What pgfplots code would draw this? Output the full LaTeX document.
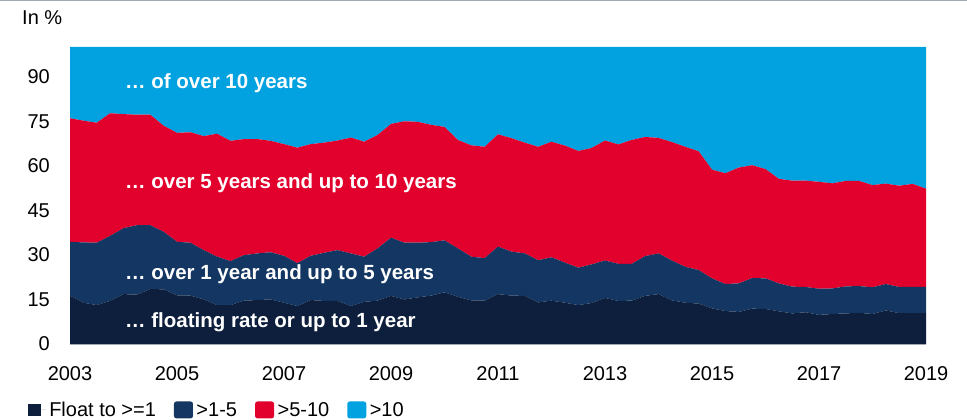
\documentclass[border=0pt]{standalone}
\usepackage{pgfplots}
\usepackage{pgfplotstable}
\pgfplotsset{compat=1.18}
\usepackage{fontspec}
\setmainfont{Liberation Sans}

\definecolor{floatc}{HTML}{0D1F3C}
\definecolor{midc}{HTML}{133662}
\definecolor{longc}{HTML}{E2002C}
\definecolor{vlongc}{HTML}{02A1DF}
\definecolor{rulec}{HTML}{A3ACB6}

% Shares of new loans by initial rate fixation, quarterly, in %
\pgfplotstableread{
year    float mid  long vlong
2003.00 16.3 18.1 41.6 24.0
2003.25 13.9 20.3 41.0 24.8
2003.50 13.1 21.0 40.4 25.5
2003.75 14.5 21.9 41.3 22.3
2004.00 16.8 22.2 38.4 22.6
2004.25 16.6 23.4 37.2 22.8
2004.50 18.5 21.5 37.2 22.8
2004.75 18.4 19.4 35.7 26.5
2005.00 16.4 18.0 36.7 28.9
2005.25 16.3 17.8 37.2 28.7
2005.50 15.0 16.6 38.4 30.0
2005.75 13.1 16.3 41.4 29.2
2006.00 13.1 14.8 40.5 31.6
2006.25 14.6 15.3 39.1 31.0
2006.50 14.8 15.7 38.5 31.0
2006.75 15.0 15.9 37.5 31.6
2007.00 13.9 15.8 37.6 32.7
2007.25 12.8 14.4 38.9 33.9
2007.50 14.8 14.9 37.6 32.7
2007.75 14.5 16.2 37.1 32.2
2008.00 14.5 17.1 36.9 31.5
2008.25 12.8 17.7 39.0 30.5
2008.50 14.2 15.2 38.7 31.9
2008.75 14.6 17.6 38.2 29.6
2009.00 16.2 19.6 38.3 25.9
2009.25 15.0 19.1 40.9 25.0
2009.50 15.7 18.4 40.7 25.2
2009.75 16.3 18.0 39.5 26.2
2010.00 17.4 17.5 38.2 26.9
2010.25 15.9 16.3 36.5 31.3
2010.50 14.7 14.7 37.5 33.1
2010.75 14.6 14.3 37.5 33.6
2011.00 16.8 16.0 37.8 29.4
2011.25 16.3 14.8 38.2 30.7
2011.50 16.2 14.3 37.3 32.2
2011.75 14.0 14.2 38.2 33.6
2012.00 14.6 14.6 38.9 31.9
2012.25 13.9 13.5 39.4 33.2
2012.50 13.1 12.6 39.3 35.0
2012.75 13.8 13.0 39.2 34.0
2013.00 15.5 12.6 40.4 31.5
2013.25 14.5 12.5 40.2 32.8
2013.50 14.6 12.4 41.7 31.3
2013.75 16.2 13.4 40.1 30.3
2014.00 16.8 13.7 38.9 30.6
2014.25 14.7 13.4 39.9 32.0
2014.50 13.9 12.1 40.4 33.6
2014.75 13.6 11.3 40.0 35.1
2015.00 12.0 10.1 36.6 41.3
2015.25 11.1  9.1 37.3 42.5
2015.50 10.8  9.6 39.0 40.6
2015.75 11.9 10.3 38.0 39.8
2016.00 11.8 10.3 36.8 41.1
2016.25 11.0  9.4 35.2 44.4
2016.50 10.3  9.0 35.7 45.0
2016.75 10.7  8.5 35.8 45.0
2017.00  9.8  8.8 36.0 45.4
2017.25 10.1  8.6 35.4 45.9
2017.50 10.3  9.1 35.5 45.1
2017.75 10.5  9.0 35.4 45.1
2018.00 10.1  9.0 34.4 46.5
2018.25 11.3  8.9 33.8 46.0
2018.50 10.4  8.8 34.1 46.7
2018.75 10.4  8.8 34.7 46.1
2019.00 10.4  8.8 33.1 47.7
}\loandata

\newcommand{\lblfont}{\fontsize{20}{23}\selectfont}
\newcommand{\inlfont}{\fontsize{20.5}{23}\selectfont\bfseries}

\begin{document}
\begin{tikzpicture}
\useasboundingbox (0pt,0pt) rectangle (967pt,420pt);
\draw[rulec, line width=1.5pt] (0pt,419.25pt) -- (967pt,419.25pt);
\node[anchor=base west, inner sep=0pt, font=\lblfont] at (22pt,395pt) {In \%};

\begin{axis}[
  at={(70pt,76pt)}, anchor=south west,
  scale only axis, width=856pt, height=297pt,
  xmin=2003, xmax=2019, ymin=0, ymax=100,
  enlargelimits=false,
  stack plots=y,
  axis on top,
  axis x line*=bottom, axis y line*=left,
  y axis line style={draw=none},
  x axis line style={draw=rulec, line width=0.8pt, -},
  major tick length=0pt,
  xtick={2003,2005,...,2019},
  ytick={0,15,...,90},
  /pgf/number format/assume math mode=true,
  xticklabel={\pgfmathprintnumber[1000 sep=]{\tick}},
  tick label style={font=\lblfont, text=black},
  xticklabel style={anchor=north, inner sep=0pt, yshift=-22pt},
  yticklabel style={anchor=east, inner sep=0pt, xshift=-20pt},
  legend columns=4,
  legend style={
    at={(-0.049,-0.222)}, anchor=west,
    draw=none, fill=none, inner sep=0pt,
    font=\lblfont,
    /tikz/every odd column/.append style={column sep=1.5pt},
    /tikz/every even column/.append style={column sep=16pt},
  },
  legend cell align=left,
]
\addplot[fill=floatc, draw=none,
  legend image code/.code={\path (0pt,0pt) -- (17.5pt,0pt);\fill[floatc] (0pt,-6.2pt) rectangle (12.4pt,6.2pt);}]
  table[x=year, y=float] {\loandata} \closedcycle;
\addlegendentry{Float to >=1}
\addplot[fill=midc, draw=none,
  legend image code/.code={\fill[midc, rounded corners=2.5pt] (0pt,-8.5pt) rectangle (19pt,8.5pt);}]
  table[x=year, y=mid] {\loandata} \closedcycle;
\addlegendentry{>1-5}
\addplot[fill=longc, draw=none,
  legend image code/.code={\fill[longc, rounded corners=2.5pt] (0pt,-8.5pt) rectangle (19pt,8.5pt);}]
  table[x=year, y=long] {\loandata} \closedcycle;
\addlegendentry{>5-10}
\addplot[fill=vlongc, draw=none,
  legend image code/.code={\fill[vlongc, rounded corners=2.5pt] (0pt,-8.5pt) rectangle (19pt,8.5pt);}]
  table[x=year, y=vlong] {\loandata} \closedcycle;
\addlegendentry{>10}
\end{axis}

% band labels inside the stacked areas
\begin{scope}[every node/.style={anchor=base west, inner sep=0pt, text=white, font=\inlfont}]
\node at (125pt,331pt) {… of over 10 years};
\node at (125pt,231.7pt) {… over 5 years and up to 10 years};
\node at (125pt,140.7pt) {… over 1 year and up to 5 years};
\node at (125pt,92.3pt) {… floating rate or up to 1 year};
\end{scope}
\end{tikzpicture}
\end{document}
